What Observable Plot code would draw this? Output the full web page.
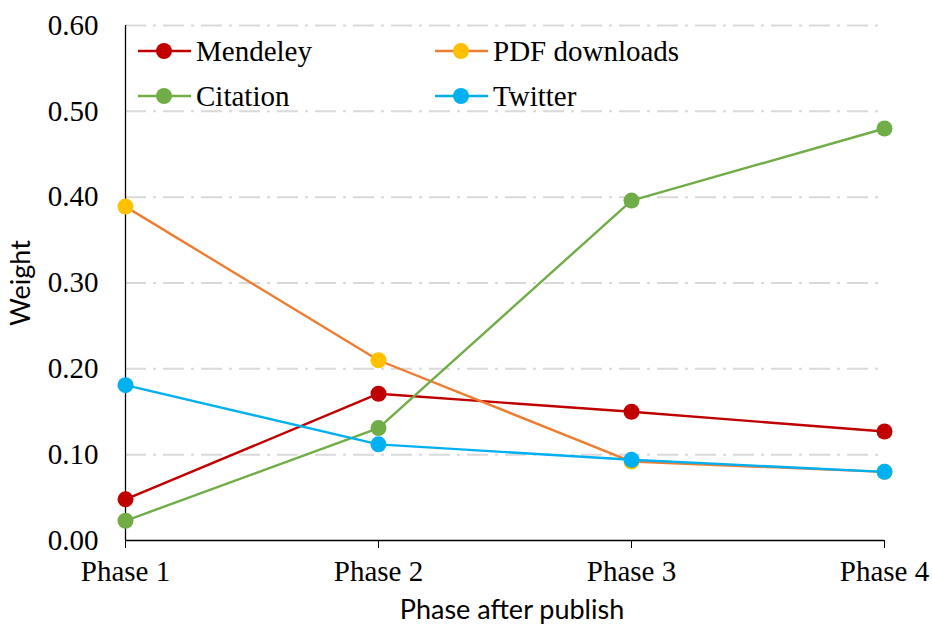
<!DOCTYPE html>
<html>
<head>
<meta charset="utf-8">
<script src="https://cdn.jsdelivr.net/npm/d3@7"></script>
<script src="https://cdn.jsdelivr.net/npm/@observablehq/plot@0.6"></script>
<style>
  html, body { margin: 0; padding: 0; background: #fff; }
  #wrap { position: relative; width: 932px; height: 628px; }
  .leg { position: absolute; display: flex; align-items: center; font-family: "Liberation Serif", "Times New Roman", serif; font-size: 29px; color: #000; white-space: nowrap; }
  .leg svg { margin-right: 5px; }
</style>
</head>
<body>
<div id="wrap"></div>
<script>
const phases = ["Phase 1", "Phase 2", "Phase 3", "Phase 4"];
const seriesNames = ["Mendeley", "PDF downloads", "Citation", "Twitter"];
const mendeley = [0.048, 0.171, 0.150, 0.127];
const pdfDownloads = [0.389, 0.210, 0.092, 0.080];
const citation = [0.023, 0.131, 0.396, 0.480];
const twitter = [0.181, 0.112, 0.094, 0.080];
const yTicks = [0, 0.1, 0.2, 0.3, 0.4, 0.5, 0.6];

const lineColors = {"Mendeley": "#C00000", "PDF downloads": "#ED7D31", "Citation": "#70AD47", "Twitter": "#00B0F0"};
const dotColors = {"Mendeley": "#C00000", "PDF downloads": "#FFC000", "Citation": "#70AD47", "Twitter": "#00B0F0"};

const valuesBySeries = [mendeley, pdfDownloads, citation, twitter];
const data = [];
seriesNames.forEach((s, i) => phases.forEach((p, j) => data.push({series: s, phase: p, value: valuesBySeries[i][j]})));

const marks = [
  Plot.ruleY(yTicks.filter(d => d > 0), {stroke: "#D9D9D9", strokeWidth: 2, strokeDasharray: "21,7,3,7"}),
  Plot.axisY({ticks: yTicks, tickFormat: d3.format(".2f"), tickSize: 0, tickPadding: 27, fontSize: 29, fontFamily: "Liberation Serif", label: null, color: "#000"}),
  Plot.axisX({tickSize: 8, tickPadding: 12, fontSize: 29, fontFamily: "Liberation Serif", label: null, color: "#000"}),
  Plot.ruleX([phases[0]], {stroke: "#000", strokeWidth: 1.3}),
  Plot.ruleY([0], {stroke: "#000", strokeWidth: 1.3}),
];
seriesNames.forEach(s => {
  const d = data.filter(r => r.series === s);
  marks.push(Plot.line(d, {x: "phase", y: "value", stroke: lineColors[s], strokeWidth: 2.4}));
  marks.push(Plot.dot(d, {x: "phase", y: "value", r: 8, fill: dotColors[s], stroke: "none"}));
});

const chart = Plot.plot({
  width: 932,
  height: 628,
  marginLeft: 125,
  marginRight: 48,
  marginTop: 25,
  marginBottom: 88,
  x: {type: "point", domain: phases, padding: 0},
  y: {domain: [0, 0.6]},
  style: {background: "#fff", overflow: "visible"},
  marks
});
const wrap = document.getElementById("wrap");
wrap.appendChild(chart);

// axis titles
const svgNS = "http://www.w3.org/2000/svg";
function addText(txt, x, y, rot) {
  const t = document.createElementNS(svgNS, "text");
  t.textContent = txt;
  t.setAttribute("text-anchor", "middle");
  t.setAttribute("font-family", "Lato, Noto Sans, sans-serif");
  t.setAttribute("font-size", "27");
  t.setAttribute("fill", "#000");
  if (rot) t.setAttribute("transform", `translate(${x},${y}) rotate(-90)`);
  else { t.setAttribute("x", x); t.setAttribute("y", y); }
  chart.appendChild(t);
}
addText("Phase after publish", 512, 619, false);
addText("Weight", 30, 283, true);

// legend overlay
const legPos = [[138, 51], [435, 51], [138, 96], [435, 96]];
seriesNames.forEach((s, i) => {
  const div = document.createElement("div");
  div.className = "leg";
  div.style.left = legPos[i][0] + "px";
  div.style.top = (legPos[i][1] - 18) + "px";
  div.style.height = "36px";
  div.innerHTML = `<svg width="53" height="20"><line x1="0" y1="10" x2="53" y2="10" stroke="${lineColors[s]}" stroke-width="2.4"/><circle cx="26" cy="10" r="8" fill="${dotColors[s]}"/></svg><span>${s}</span>`;
  wrap.appendChild(div);
});
</script>
</body>
</html>
